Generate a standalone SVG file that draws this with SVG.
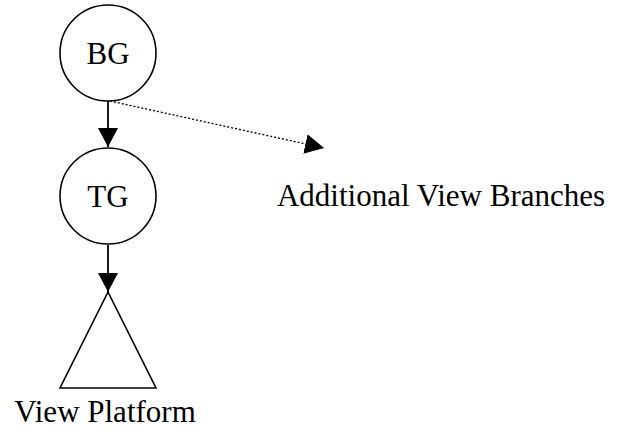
<svg xmlns="http://www.w3.org/2000/svg" width="620" height="431" viewBox="0 0 620 431">
  <style>
    .shape { fill: #ffffff; stroke: #000000; stroke-width: 1.6; }
    .label { font-family: "Liberation Serif", "Times New Roman", serif; font-size: 31px; fill: #000000; text-anchor: middle; }
    .edge { fill: none; stroke: #000000; stroke-width: 1.8; }
    .dotted { fill: none; stroke: #000000; stroke-width: 1.3; stroke-dasharray: 2 2; }
  </style>
  <defs>
    <marker id="arrow" markerUnits="userSpaceOnUse" markerWidth="20" markerHeight="20" refX="19" refY="10" orient="auto" viewBox="0 0 20 20">
      <path d="M0,0 L19,10 L0,20 Z" fill="#000000"/>
    </marker>
  </defs>

  <rect width="620" height="431" fill="#ffffff"/>

  <g id="connectors">
    <path class="edge" d="M108,101 L108,147" marker-end="url(#arrow)"/>
    <path class="edge" d="M108,245 L108,292" marker-end="url(#arrow)"/>
    <path class="dotted" d="M110,101 L324,148" marker-end="url(#arrow)"/>
  </g>

  <g id="bg">
    <circle class="shape" cx="108" cy="53" r="48"/>
    <text class="label" x="108" y="64">BG</text>
  </g>

  <g id="tg">
    <circle class="shape" cx="108" cy="196" r="48"/>
    <text class="label" x="108" y="207">TG</text>
  </g>

  <g id="view-platform">
    <polygon class="shape" points="108,292 156,388 60,388"/>
    <text class="label" x="105" y="422">View Platform</text>
  </g>

  <g id="additional-view-branches">
    <text class="label" x="441" y="206">Additional View Branches</text>
  </g>
</svg>
